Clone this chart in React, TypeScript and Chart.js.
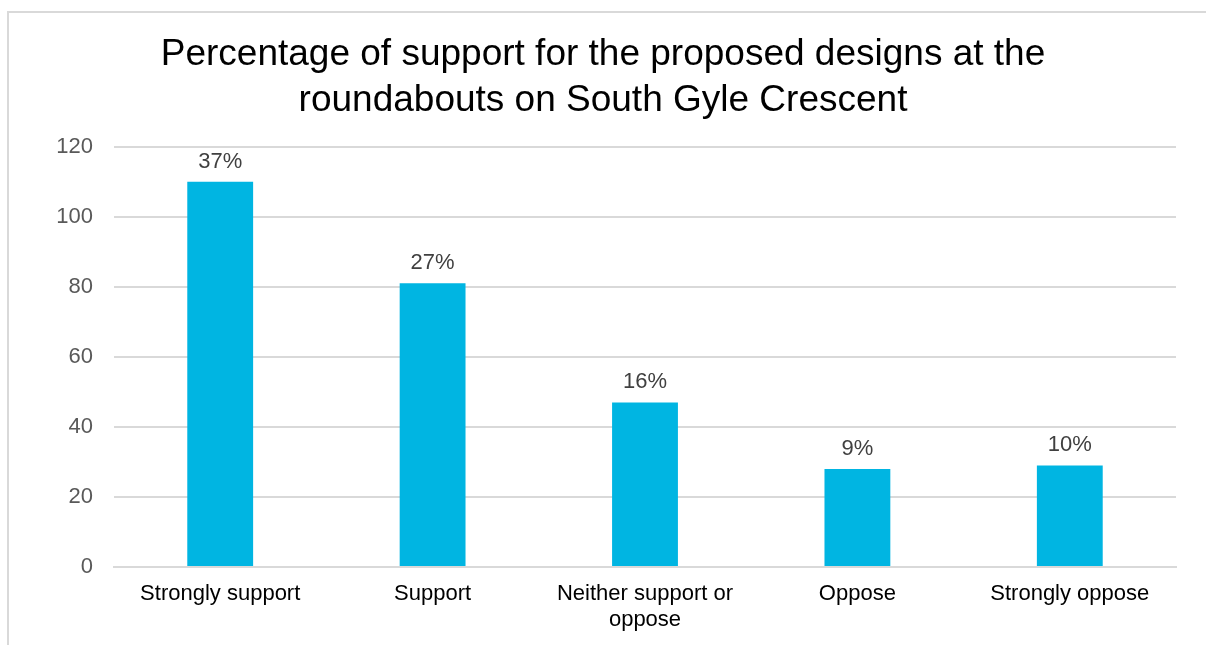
import React, { useEffect, useRef } from "react";
import { Chart, registerables } from "chart.js";

Chart.register(...registerables);

const categories: (string | string[])[] = [
  "Strongly support",
  "Support",
  ["Neither support or", "oppose"],
  "Oppose",
  "Strongly oppose",
];
const counts: number[] = [110, 81, 47, 28, 29];
const percentLabels: string[] = ["37%", "27%", "16%", "9%", "10%"];
const titleLines: string[] = [
  "Percentage of support for the proposed designs at the",
  "roundabouts on South Gyle Crescent",
];
const yTickMin = 0;
const yTickMax = 120;
const yTickStep = 20;

const FONT = "'Liberation Sans', Arial, sans-serif";
const W = 1206;
const H = 645;

const dataLabelPlugin = {
  id: "dataLabels",
  afterDatasetsDraw(chart: any) {
    const ctx = chart.ctx;
    const meta = chart.getDatasetMeta(0);
    ctx.save();
    ctx.font = `22px ${FONT}`;
    ctx.fillStyle = "#404040";
    ctx.textAlign = "center";
    ctx.textBaseline = "alphabetic";
    meta.data.forEach((bar: any, i: number) => {
      ctx.fillText(percentLabels[i], bar.x, bar.y - 14);
    });
    ctx.restore();
  },
};

export default function App() {
  const ref = useRef<HTMLCanvasElement>(null);

  useEffect(() => {
    if (!ref.current) return;
    const chart = new Chart(ref.current, {
      type: "bar",
      data: {
        labels: categories,
        datasets: [
          {
            data: counts,
            backgroundColor: "#00B5E2",
            borderWidth: 0,
            categoryPercentage: 1,
            barPercentage: 0.31,
          },
        ],
      },
      options: {
        animation: false,
        responsive: false,
        maintainAspectRatio: false,
        layout: { padding: { left: 30, right: 30, top: 0, bottom: 0 } },
        plugins: {
          legend: { display: false },
          tooltip: { enabled: false },
          title: {
            display: true,
            text: titleLines,
            color: "#000000",
            font: { family: FONT, size: 37, weight: "normal", lineHeight: 1.24 },
            padding: { top: 32, bottom: 23 },
          },
        },
        scales: {
          x: {
            grid: { display: false, drawTicks: false },
            border: { display: true, color: "#d9d9d9", width: 2 },
            ticks: {
              color: "#000000",
              font: { family: FONT, size: 22, lineHeight: 1.18 },
              padding: 14,
              maxRotation: 0,
              autoSkip: false,
            },
            afterFit(scale: any) {
              scale.height = 78;
            },
          },
          y: {
            min: yTickMin,
            max: yTickMax,
            ticks: {
              stepSize: yTickStep,
              color: "#595959",
              font: { family: FONT, size: 22 },
              padding: 21,
            },
            grid: { color: "#d9d9d9", lineWidth: 2, drawTicks: false },
            border: { display: false },
            afterFit(scale: any) {
              scale.width = 84;
            },
          },
        },
      },
      plugins: [dataLabelPlugin],
    });
    return () => chart.destroy();
  }, []);

  return (
    <div
      style={{
        position: "fixed",
        left: 0,
        top: 0,
        width: W,
        height: H,
        overflow: "hidden",
        background: "#ffffff",
      }}
    >
      <div
        style={{
          position: "absolute",
          left: 7,
          top: 11,
          width: 1400,
          height: 800,
          border: "2px solid #d9d9d9",
          boxSizing: "border-box",
        }}
      />
      <canvas
        ref={ref}
        width={W}
        height={H}
        style={{ position: "absolute", left: 0, top: 0, width: W, height: H }}
      />
    </div>
  );
}
